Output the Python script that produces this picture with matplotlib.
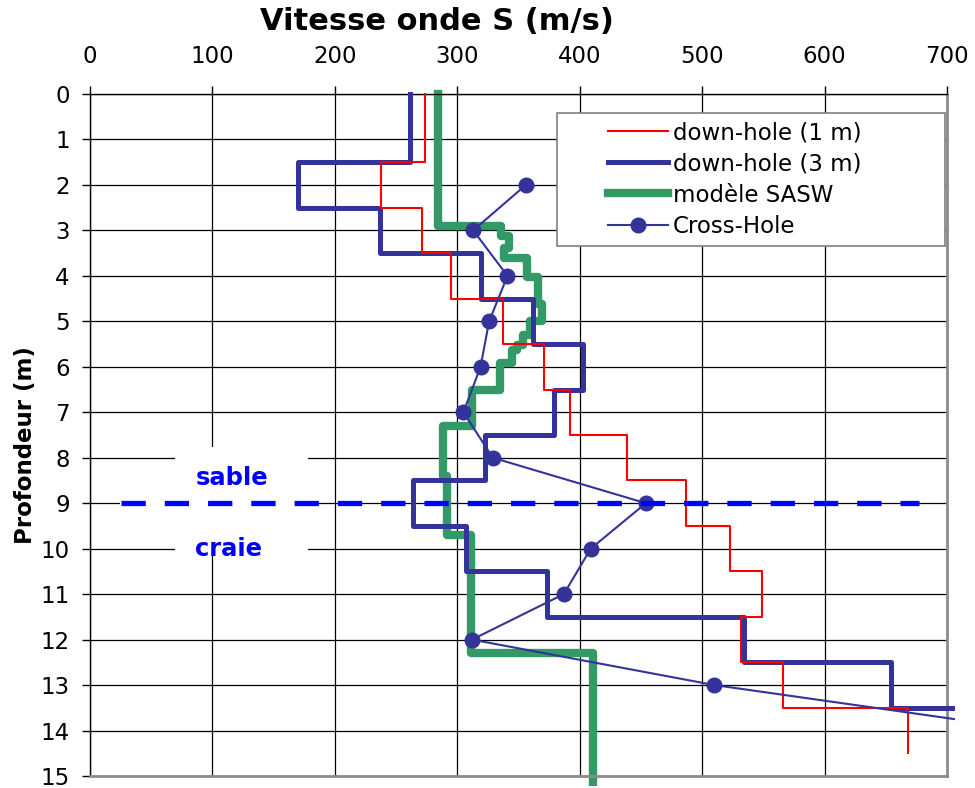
import matplotlib
matplotlib.use("Agg")
import matplotlib.pyplot as plt
from matplotlib.patches import Rectangle

plt.rcParams['font.family'] = ['DejaVu Sans']

# down-hole 1 m : limites des couches (m) et vitesses (m/s)
dh1_depth = [0, 1.5, 2.5, 3.5, 4.5, 5.5, 6.5, 7.5, 8.5, 9.5, 10.5, 11.5, 12.5, 13.5, 14.5]
dh1_vs = [274, 238, 271, 295, 337, 371, 392, 439, 487, 523, 549, 532, 566, 668]

# down-hole 3 m
dh3_depth = [0, 1.5, 2.5, 3.5, 4.5, 5.5, 6.5, 7.5, 8.5, 9.5, 10.5, 11.5, 12.5, 13.5, 15]
dh3_vs = [261, 170, 237, 319, 362, 403, 379, 323, 264, 307, 373, 534, 654, 720]

# modele SASW
sasw_depth = [0, 2.9, 3.12, 3.38, 3.61, 4.03, 4.62, 5.0, 5.3, 5.52, 5.63, 5.92,
              6.51, 7.31, 8.41, 9.70, 12.30, 15.3]
sasw_vs = [284, 336, 342, 338, 357, 366, 369, 359.5, 354, 348.6, 344.5, 335,
           312, 288.6, 291.4, 311.5, 411]

# cross-hole
ch_depth = [2, 3, 4, 5, 6, 7, 8, 9, 10, 11, 12, 13, 14]
ch_vs = [356, 313, 341, 326, 319, 305, 329, 454, 409, 387, 312, 510, 772]

# limite sable / craie
limite_x = [25, 677]
limite_z = [9, 9]


def escalier(depth, vs):
    x, z = [], []
    for i, v in enumerate(vs):
        x += [v, v]
        z += [depth[i], depth[i + 1]]
    return x, z


fig = plt.figure(figsize=(9.75, 7.88), dpi=100)
ax = fig.add_axes([90 / 975, 12 / 788, 857 / 975, 682 / 788])

x1, z1 = escalier(dh1_depth, dh1_vs)
x3, z3 = escalier(dh3_depth, dh3_vs)
xs, zs = escalier(sasw_depth, sasw_vs)

l_sasw, = ax.plot(xs, zs, color='#339966', lw=6, label='modèle SASW', zorder=2)
l_dh3, = ax.plot(x3, z3, color='#333399', lw=3.6, label='down-hole (3 m)', zorder=3)
l_dh1, = ax.plot(x1, z1, color='#ff0000', lw=1.5, label='down-hole (1 m)', zorder=4)
l_ch, = ax.plot(ch_vs, ch_depth, color='#333399', lw=1.5, marker='o',
                markersize=10.5, label='Cross-Hole', zorder=5)
l_lim, = ax.plot(limite_x, limite_z, color='#0000ff', lw=3.8, dashes=(4.6, 3.6), zorder=6)

# zone de trace un peu plus large que les axes
clip = Rectangle((0, -0.0147), 1.0093, 1.03, transform=ax.transAxes)
for l in [l_sasw, l_dh3, l_dh1, l_ch]:
    l.set_clip_path(clip)

ax.set_xlim(0, 700)
ax.set_ylim(15, 0)
ax.set_xticks(range(0, 701, 100))
ax.set_yticks(range(0, 16))
ax.xaxis.tick_top()
ax.tick_params(axis='both', direction='out', length=5.5, width=1, labelsize=16.5)
ax.tick_params(axis='x', pad=13)
ax.tick_params(axis='y', pad=9)
ax.grid(True, color='black', lw=0.9)
ax.set_axisbelow(True)
for s in ['top', 'left']:
    ax.spines[s].set_color('black')
    ax.spines[s].set_linewidth(1)
for s in ['right', 'bottom']:
    ax.spines[s].set_color('#8c8c8c')
    ax.spines[s].set_linewidth(2)

# etiquettes des couches (fond blanc)
box_sable = Rectangle((69.4, 7.76), 108.6, 1.17, facecolor='white', edgecolor='none', zorder=1.5)
box_lim = Rectangle((24.5, 8.93), 153.5, 0.14, facecolor='white', edgecolor='none', zorder=1.5)
box_craie = Rectangle((69.4, 9.07), 108.6, 1.03, facecolor='white', edgecolor='none', zorder=1.5)
for b in [box_sable, box_lim, box_craie]:
    ax.add_patch(b)
ax.text(86, 8.6, 'sable', ha='left', va='baseline', color='#0000ff',
        fontsize=17.5, fontweight='bold', zorder=7)
t = ax.text(86, 10.16, 'craie', ha='left', va='baseline', color='#0000ff',
            fontsize=17.5, fontweight='bold', zorder=7)
t.set_clip_path(box_craie)

fig.text(437 / 975, 1 - 22 / 788, 'Vitesse onde S (m/s)', ha='center', va='center',
         fontsize=22, fontweight='bold')
fig.text(26 / 975, 1 - 445 / 788, 'Profondeur (m)', ha='center', va='center',
         rotation=90, fontsize=16.5, fontweight='bold')

# legende
cadre = Rectangle((557 / 975, 1 - 246 / 788), 388 / 975, 133 / 788, transform=fig.transFigure,
                  facecolor='white', edgecolor='#808080', lw=1.2, zorder=8, clip_on=False)
ax.add_patch(cadre)
leg = ax.legend(handles=[l_dh1, l_dh3, l_sasw, l_ch], loc='upper left',
                bbox_to_anchor=(608 / 975, 1 - 121 / 788), bbox_transform=fig.transFigure,
                frameon=False, fontsize=16.5, borderpad=0, handlelength=2.62,
                handletextpad=0.22, labelspacing=0.36, borderaxespad=0)
leg.set_zorder(9)

fig.savefig('out.png', dpi=100)
